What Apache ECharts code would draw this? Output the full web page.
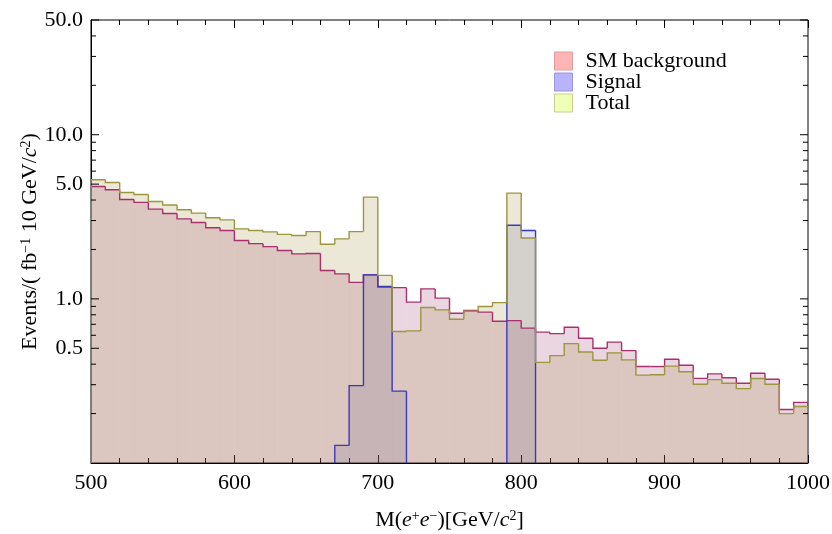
<!DOCTYPE html>
<html>
<head>
<meta charset="utf-8">
<script src="https://cdn.jsdelivr.net/npm/echarts@6/dist/echarts.min.js"></script>
<style>html,body{margin:0;padding:0;background:#fff}#c{width:832px;height:534px}</style>
</head>
<body>
<div id="c"></div>
<script>
// Bin lower edges (GeV/c^2), bin width 10
const binStart = [500,510,520,530,540,550,560,570,580,590,600,610,620,630,640,650,660,670,680,690,
                  700,710,720,730,740,750,760,770,780,790,800,810,820,830,840,850,860,870,880,890,
                  900,910,920,930,940,950,960,970,980,990];
const binWidth = 10;

const smBackground = [4.84,4.62,4.03,3.87,3.52,3.31,3.07,2.92,2.71,2.61,
                      2.27,2.17,2.08,1.97,1.88,1.89,1.49,1.42,1.26,1.40,
                      1.18,1.17,0.955,1.15,1.01,0.818,0.849,0.830,0.731,0.737,
                      0.663,0.627,0.614,0.672,0.576,0.500,0.545,0.484,0.387,0.387,
                      0.429,0.394,0.328,0.349,0.331,0.306,0.352,0.324,0.212,0.234];

const signal = [null,null,null,null,null,null,null,null,null,null,
                null,null,null,null,null,null,null,0.128,0.296,1.40,
                1.19,0.274,null,null,null,null,null,null,null,2.81,
                2.61,null,null,null,null,null,null,null,null,null,
                null,null,null,null,null,null,null,null,null,null];

const total = [5.32,5.12,4.45,4.32,3.92,3.73,3.49,3.33,3.12,3.03,
               2.67,2.61,2.56,2.47,2.43,2.57,2.15,2.32,2.57,4.17,
               1.39,0.632,0.638,0.885,0.857,0.752,0.841,0.898,0.949,4.41,
               2.35,0.410,0.451,0.534,0.475,0.423,0.469,0.425,0.343,0.345,
               0.389,0.360,0.302,0.322,0.306,0.284,0.327,0.302,0.200,0.221];

const yMajorTicks = [0.5, 1, 5, 10, 50];
const yTickLabels = ['0.5', '1.0', '5.0', '10.0', '50.0'];
const yMinorTicks = [0.2,0.3,0.4,0.6,0.7,0.8,0.9,2,3,4,6,7,8,9,20,30,40];

const FONT = '"Liberation Serif", "Times New Roman", serif';

function histRender(vals, stroke, fill) {
  return function (params, api) {
    const i = params.dataIndex;
    const v = vals[i];
    if (v == null) return null;
    const lo = binStart[i], hi = binStart[i] + binWidth;
    const cs = params.coordSys;
    const bottom = cs.y + cs.height;
    const a = api.coord([lo, v]);
    const b = api.coord([hi, v]);
    const prev = i > 0 ? vals[i - 1] : null;
    const next = i < vals.length - 1 ? vals[i + 1] : null;
    const yPrev = prev == null ? bottom : api.coord([lo, prev])[1];
    const children = [
      { type: 'rect', shape: { x: a[0], y: a[1], width: b[0] - a[0], height: bottom - a[1] },
        style: { fill: fill }, z2: 1 },
      { type: 'polyline', shape: { points: [[a[0], yPrev], [a[0], a[1]], [b[0], b[1]]] },
        style: { stroke: stroke, lineWidth: 1.4, fill: null }, z2: 5 }
    ];
    if (next == null) {
      children.push({ type: 'line', shape: { x1: b[0], y1: b[1], x2: b[0], y2: bottom },
        style: { stroke: stroke, lineWidth: 1.4 }, z2: 5 });
    }
    return { type: 'group', children: children };
  };
}

function histData(vals) {
  return vals.map((v, i) => [binStart[i], v == null ? '-' : v]);
}

const tickData = yMajorTicks.map((v, i) => [500, v, 1, i]).concat(yMinorTicks.map(v => [500, v, 0, -1]));

const chart = echarts.init(document.getElementById('c'));
chart.setOption({
  animation: false,
  backgroundColor: '#fff',
  grid: { left: 91, right: 24, top: 20, bottom: 71, show: true, borderColor: '#000', borderWidth: 1,
          backgroundColor: 'transparent', outerBoundsMode: 'none', containLabel: false },
  legend: {
    left: 549, top: 45, orient: 'vertical', itemWidth: 18, itemHeight: 18, itemGap: -1,
    icon: 'rect',
    textStyle: { fontFamily: FONT, fontSize: 22, color: '#000', padding: [0, 0, 0, 8] },
    data: [
      { name: 'SM background', itemStyle: { color: '#ffb5b5', borderColor: '#e39c9c', borderWidth: 1 } },
      { name: 'Signal', itemStyle: { color: '#b9b3fb', borderColor: '#9d96e0', borderWidth: 1 } },
      { name: 'Total', itemStyle: { color: '#efffb5', borderColor: '#c8cf8c', borderWidth: 1 } }
    ]
  },
  xAxis: [{
    type: 'value', min: 500, max: 1000, interval: 100,
    axisLine: { show: true, lineStyle: { color: '#000', width: 1 } },
    axisTick: { show: true, inside: true, length: 8, lineStyle: { color: '#000' } },
    minorTick: { show: true, splitNumber: 5, length: 5, lineStyle: { color: '#000' } },
    splitLine: { show: false },
    axisLabel: { fontFamily: FONT, fontSize: 22, color: '#000', margin: 9, formatter: function (v) { return String(v); } },
    name: 'M({i|e}{sup|+}{i|e}{sup|−})[GeV/{i|c}{sup|2}]',
    nameLocation: 'middle', nameGap: 46,
    nameTextStyle: {
      fontFamily: FONT, fontSize: 22, color: '#000',
      rich: {
        i: { fontFamily: FONT, fontSize: 22, fontStyle: 'italic', color: '#000' },
        sup: { fontFamily: FONT, fontSize: 14, color: '#000', verticalAlign: 'top' }
      }
    }
  }, {
    type: 'value', min: 500, max: 1000, interval: 100, position: 'top',
    axisLine: { show: false },
    axisTick: { show: true, inside: true, length: 8, lineStyle: { color: '#000' } },
    minorTick: { show: true, splitNumber: 5, length: 5, lineStyle: { color: '#000' } },
    splitLine: { show: false },
    axisLabel: { show: false }
  }],
  yAxis: {
    type: 'log', logBase: 10, min: 0.1, max: 50,
    axisLine: { show: true, lineStyle: { color: '#000', width: 1 } },
    axisTick: { show: false }, minorTick: { show: false },
    splitLine: { show: false }, axisLabel: { show: false },
    name: 'Events/( fb{sup|−1} 10 GeV/{i|c}{sup|2})',
    nameLocation: 'middle', nameGap: 50, nameRotate: 90,
    nameTextStyle: {
      fontFamily: FONT, fontSize: 22, color: '#000',
      rich: {
        i: { fontFamily: FONT, fontSize: 22, fontStyle: 'italic', color: '#000' },
        sup: { fontFamily: FONT, fontSize: 14, color: '#000', verticalAlign: 'top' }
      }
    }
  },
  series: [
    { name: 'SM background', type: 'custom', clip: true, data: histData(smBackground), encode: { x: 0, y: 1 },
      itemStyle: { color: '#ffb5b5' },
      renderItem: histRender(smBackground, '#a8306c', 'rgba(150,50,100,0.20)') },
    { name: 'Signal', type: 'custom', clip: true, data: histData(signal), encode: { x: 0, y: 1 },
      itemStyle: { color: '#b9b3fb' },
      renderItem: histRender(signal, '#3a3ab8', 'rgba(60,60,160,0.15)') },
    { name: 'Total', type: 'custom', clip: true, data: histData(total), encode: { x: 0, y: 1 },
      itemStyle: { color: '#efffb5' },
      renderItem: histRender(total, '#9c963c', 'rgba(160,140,60,0.20)') },
    { name: 'yticks', type: 'custom', clip: false, data: tickData, encode: { x: 0, y: 1 }, z: 10,
      silent: true,
      renderItem: function (params, api) {
        const v = api.value(1);
        const major = api.value(2) === 1;
        const li = api.value(3);
        const p = api.coord([500, v]);
        const q = api.coord([1000, v]);
        const len = major ? 8 : 5;
        const ch = [
          { type: 'line', shape: { x1: p[0], y1: p[1], x2: p[0] + len, y2: p[1] }, style: { stroke: '#000', lineWidth: 1 } },
          { type: 'line', shape: { x1: q[0] - len, y1: q[1], x2: q[0], y2: q[1] }, style: { stroke: '#000', lineWidth: 1 } }
        ];
        if (major) {
          ch.push({ type: 'text', style: { text: yTickLabels[li], x: p[0] - 8, y: p[1], align: 'right', verticalAlign: 'middle',
            font: '22px ' + FONT, fill: '#000' } });
        }
        return { type: 'group', children: ch };
      } }
  ]
});
</script>
</body>
</html>
